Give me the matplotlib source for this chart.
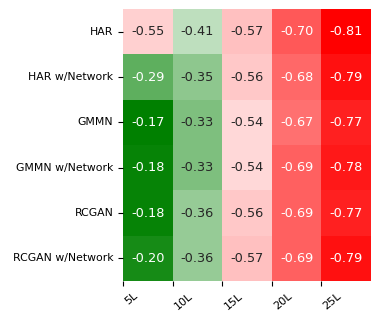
import matplotlib
matplotlib.use("Agg")
import matplotlib.pyplot as plt
from matplotlib.colors import LinearSegmentedColormap
import numpy as np
import seaborn as sns

models = ["HAR", "HAR w/Network", "GMMN", "GMMN w/Network", "RCGAN", "RCGAN w/Network"]
lags = ["5L", "10L", "15L", "20L", "25L"]

har = [-0.55, -0.41, -0.57, -0.70, -0.81]
har_net = [-0.29, -0.35, -0.56, -0.68, -0.79]
gmmn = [-0.17, -0.33, -0.54, -0.67, -0.77]
gmmn_net = [-0.18, -0.33, -0.54, -0.69, -0.78]
rcgan = [-0.18, -0.36, -0.56, -0.69, -0.77]
rcgan_net = [-0.20, -0.36, -0.57, -0.69, -0.79]

vals = np.array([har, har_net, gmmn, gmmn_net, rcgan, rcgan_net])

cmap = LinearSegmentedColormap.from_list("rwg", ["red", "white", "green"])

fig = plt.figure(figsize=(3.81, 3.13), dpi=100)
ax = fig.add_axes([0.3228, 0.102, 0.651, 0.869])
sns.heatmap(vals, ax=ax, cmap=cmap, annot=True, fmt=".2f", cbar=False,
            vmin=vals.min(), vmax=vals.max(), annot_kws={"fontsize": 9.3})

ax.set_yticklabels(models, rotation=0, fontsize=7.8)
ax.set_xticks(np.arange(len(lags)))
ax.set_xticklabels(lags, rotation=40, ha="left", fontsize=8)

fig.savefig("out.png", dpi=100)
